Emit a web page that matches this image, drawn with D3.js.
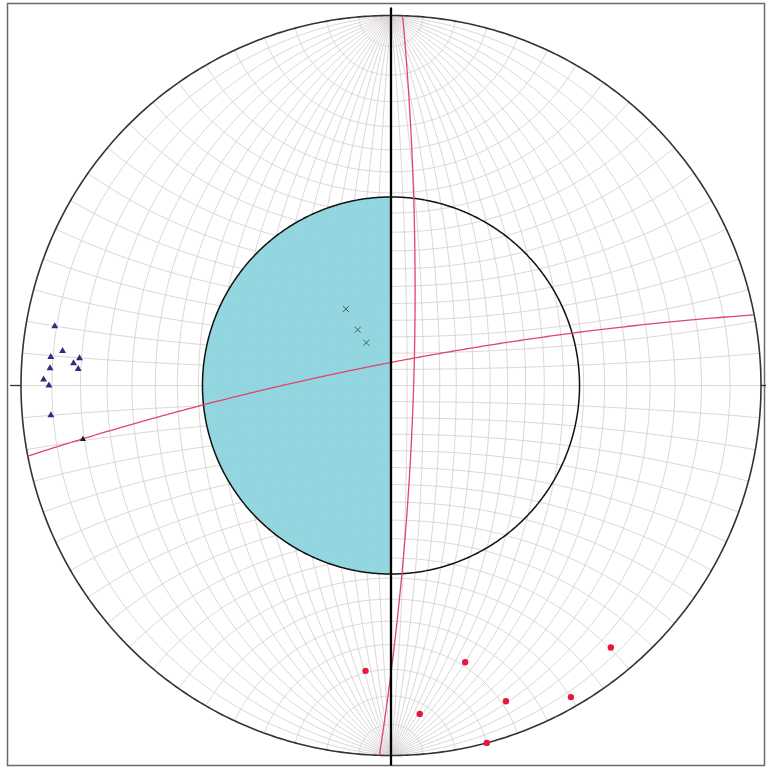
<!DOCTYPE html>
<html><head><meta charset="utf-8">
<script src="https://cdn.jsdelivr.net/npm/d3@7"></script>
<style>html,body{margin:0;padding:0;background:#fff}svg{display:block}</style>
</head><body>
<svg id="chart" width="766" height="767"></svg>
<script>
// ---- Data (trend, plunge in degrees; lower-hemisphere stereonet) ----
const poleTriangles = [[280.0,4.6],[274.8,4.6],[276.0,6.5],[275.0,9.6],[274.0,8.6],[272.9,4.6],[273.0,9.5],[271.0,3.6],[270.0,4.5],[265.0,4.6]];
const lineationTriangles = [[260.1,9.6]];
const crossPoints = [[329.5,63.0],[329.2,70.1],[330.0,74.8]];
const redDots = [[185.1,14.5],[165.0,14.5],[140.0,4.5],[175.0,6.6],[160.0,5.5],[150.0,1.6],[165.0,0.0]];
const planeDipDirections = [91.8, 349.0];
const planeDips = [83.0, 83.0];
const coneAngle = 54;   // angular radius of the shaded cone (deg)
const gridStep = 5;     // Wulff-net grid spacing (deg)

// ---- Layout ----
const W = 766, H = 767, cx = 391, cy = 385.5, R = 370;
const rad = Math.PI / 180;
const svg = d3.select("#chart");

const projection = d3.geoStereographic()
  .scale(R).translate([cx, cy]).rotate([0, 0])
  .clipAngle(90.0001).precision(0.2);
const path = d3.geoPath(projection);

function toLonLat(tr, pl) {
  const t = tr * rad, p = pl * rad;
  const n = Math.cos(p) * Math.cos(t), e = Math.cos(p) * Math.sin(t), d = Math.sin(p);
  return [Math.atan2(e, d) / rad, Math.asin(Math.max(-1, Math.min(1, n))) / rad];
}
const tr = d => { const p = projection(toLonLat(d[0], d[1])); return `translate(${p[0]},${p[1]})`; };

// frame
svg.append("rect").attr("x", 7.5).attr("y", 3.5).attr("width", 757).attr("height", 762)
  .attr("fill", "#fff").attr("stroke", "#6a6a6a").attr("stroke-width", 1.5);

// Wulff net grid
const gridLines = [];
for (let lon = -90 + gridStep; lon < 90; lon += gridStep) {
  gridLines.push(d3.range(-90, 90.001, 1).map(lat => [lon, lat]));
}
for (let lat = -90 + gridStep; lat < 90; lat += gridStep) {
  gridLines.push(d3.range(-90, 90.001, 1).map(lon => [lon, lat]));
}
svg.append("path").datum({type: "MultiLineString", coordinates: gridLines})
  .attr("d", path).attr("fill", "none").attr("stroke", "#d4cfd1").attr("stroke-width", 0.85);

// shaded half cone
const c0 = projection([0, 0]);
svg.append("clipPath").attr("id", "lefthalf").append("rect")
  .attr("x", 0).attr("y", 0).attr("width", c0[0]).attr("height", H);
const cone = d3.geoCircle().center([0, 0]).radius(coneAngle).precision(0.5)();
svg.append("path").datum(cone).attr("d", path)
  .attr("fill", "#8dd3de").attr("fill-opacity", 0.94).attr("clip-path", "url(#lefthalf)");
svg.append("path").datum(cone).attr("d", path)
  .attr("fill", "none").attr("stroke", "#111").attr("stroke-width", 1.5);

// primitive circle
const prim = d3.geoCircle().center([0, 0]).radius(90).precision(0.5)();
svg.append("path").datum(prim).attr("d", path)
  .attr("fill", "none").attr("stroke", "#333").attr("stroke-width", 1.6);

// ticks E/W and N-S line
const pN = projection([0, 90]), pS = projection([0, -90]);
const pE = projection([90, 0]), pWp = projection([-90, 0]);
svg.append("line").attr("x1", pWp[0] - 11).attr("x2", pWp[0]).attr("y1", pWp[1]).attr("y2", pWp[1])
  .attr("stroke", "#333").attr("stroke-width", 1.3);
svg.append("line").attr("x1", pE[0]).attr("x2", pE[0] + 11).attr("y1", pE[1]).attr("y2", pE[1])
  .attr("stroke", "#333").attr("stroke-width", 1.3);

// red planes (great circles)
planeDipDirections.forEach((dd, i) => {
  const pole = toLonLat((dd + 180) % 360, 90 - planeDips[i]);
  const ring = d3.geoCircle().center(pole).radius(90).precision(0.5)().coordinates[0];
  svg.append("path").datum({type: "LineString", coordinates: ring}).attr("d", path)
    .attr("fill", "none").attr("stroke", "#e0456b").attr("stroke-width", 1.3);
});

svg.append("line").attr("x1", pN[0]).attr("x2", pS[0]).attr("y1", pN[1] - 8).attr("y2", pS[1] + 10)
  .attr("stroke", "#000").attr("stroke-width", 2.3);

// markers
svg.append("g").selectAll("path").data(poleTriangles).join("path")
  .attr("transform", tr).attr("d", d3.symbol().type(d3.symbolTriangle).size(21)).attr("fill", "#2e2e7e");
svg.append("g").selectAll("path").data(lineationTriangles).join("path")
  .attr("transform", tr).attr("d", d3.symbol().type(d3.symbolTriangle).size(15)).attr("fill", "#1a1a2a");
svg.append("g").selectAll("path").data(crossPoints).join("path")
  .attr("transform", tr)
  .attr("d", "M-3,-3L3,3M-3,3L3,-3").attr("fill", "none").attr("stroke", "#4c5a60").attr("stroke-width", 1);
svg.append("g").selectAll("path").data(redDots).join("path")
  .attr("transform", tr).attr("d", d3.symbol().type(d3.symbolCircle).size(32)).attr("fill", "#e8173d");
</script>
</body></html>
